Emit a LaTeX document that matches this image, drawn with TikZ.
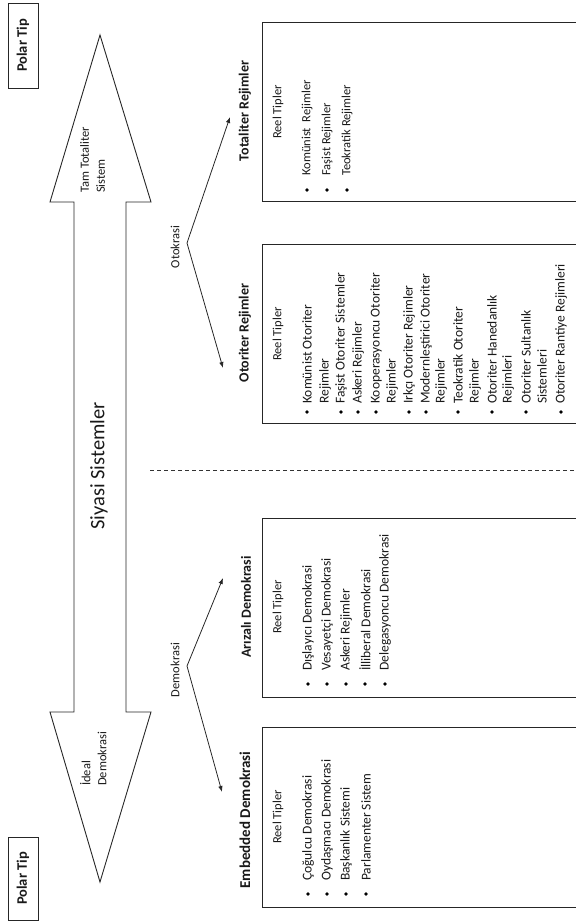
\documentclass[tikz,border=0pt]{standalone}
\usepackage{fontspec}
\setmainfont{Carlito}
\usetikzlibrary{arrows.meta}
\begin{document}
\begin{tikzpicture}[x=1pt,y=-1pt,
  line/.style={draw=black!85, line width=0.9pt},
  vt/.style={rotate=90, inner sep=0pt, text=black!90},
  small/.style={vt, font=\fontsize{12.5}{14}\selectfont},
  itm/.style={vt, anchor=west, font=\fontsize{13.5}{14}\selectfont},
  head/.style={vt, font=\bfseries\fontsize{14}{16}\selectfont},
  reel/.style={vt, font=\fontsize{12.5}{14}\selectfont},
  bul/.style={circle, fill=black, inner sep=0pt, minimum size=3.8pt},
  conn/.style={draw=black!85, line width=0.8pt, -{Latex[length=6pt,width=4.5pt]}}
]
\useasboundingbox (0,0) rectangle (576,922);

% Polar Tip boxes
\node[line, vt, minimum width=85pt, minimum height=30pt, font=\bfseries\fontsize{14.5}{16}\selectfont] (p1) at (23,45.5) {Polar Tip};
\node[line, vt, minimum width=83pt, minimum height=30pt, font=\bfseries\fontsize{14.5}{16}\selectfont] (p2) at (23,878.5) {Polar Tip};

% Double block arrow
\draw[line] (100,35) -- (151,202) -- (126,202) -- (126,712) -- (151,712) -- (100,882)
  -- (50,712) -- (74,712) -- (74,202) -- (50,202) -- cycle;
\node[vt, font=\fontsize{20.5}{24}\selectfont] (siy) at (99,466) {Siyasi Sistemler};
\node[small, anchor=north west, align=left] (tam) at (80,193) {Tam Totaliter\\[2pt]Sistem};
\node[small, anchor=north west, align=left] (ide) at (80,786) {İdeal\\[2pt]Demokrasi};

% Dashed separator
\coordinate (d1) at (150,470);
\coordinate (d2) at (576,470);
\draw[draw=black!80, line width=0.8pt, dash pattern=on 4pt off 3pt] (d1) -- (d2);

% Otokrasi branch
\node[small] (oto) at (175,247) {Otokrasi};
\coordinate (otov) at (187,243);
\coordinate (otoa) at (230,117);
\coordinate (otob) at (223,368);
\draw[conn] (otov) -- (otoa);
\draw[conn] (otov) -- (otob);

% Demokrasi branch
\node[small] (dem) at (175,670) {Demokrasi};
\coordinate (demv) at (187,666);
\coordinate (dema) at (223,578);
\coordinate (demb) at (222,792);
\draw[conn] (demv) -- (dema);
\draw[conn] (demv) -- (demb);

% Headings
\node[head] (h1) at (245,111) {Totaliter Rejimler};
\node[head] (h2) at (245,333) {Otoriter Rejimler};
\node[head] (h3) at (246,607) {Arızalı Demokrasi};
\node[head, font=\bfseries\fontsize{15}{17}\selectfont] (h4) at (245,820) {Embedded Demokrasi};

% Open boxes
\draw[line] (576,22) -- (262,22) -- (262,201) -- (576,201);
\draw[line] (576,244) -- (262,244) -- (262,423) -- (576,423);
\draw[line] (576,518) -- (262,518) -- (262,697) -- (576,697);
\draw[line] (576,727) -- (262,727) -- (262,907) -- (576,907);

% Reel Tipler
\node[reel] (r1) at (278,112) {Reel Tipler};
\node[reel] (r2) at (278,334) {Reel Tipler};
\node[reel] (r3) at (278,607) {Reel Tipler};
\node[reel] (r4) at (278,817) {Reel Tipler};

% Totaliter items
\foreach \x/\t/\b [count=\i] in {307/Komünist\ \ Rejimler/1, 327/Faşist Rejimler/1, 347/Teokratik Rejimler/1}{
  \node[itm, font=\fontsize{12.5}{14}\selectfont] (ta\i) at (\x,176) {\t};
  \ifnum\b=1 \node[bul] (tb\i) at (\x,190) {};\fi
}
% Otoriter items
\foreach \x/\t/\b [count=\i] in {307/Komünist Otoriter/1, 325/Rejimler/0, 341/Faşist Otoriter Sistemler/1,
  358/Askeri Rejimler/1, 376/Kooperasyoncu Otoriter/1, 392/Rejimler/0, 409/Irkçı Otoriter Rejimler/1,
  426/Modernleştirici Otoriter/1, 441/Rejimler/0, 458/Teokratik Otoriter/1, 475/Rejimler/0,
  492/Otoriter Hanedanlık/1, 508/Rejimleri/0, 526/Otoriter Sultanlık/1, 542/Sistemleri/0,
  561/Otoriter Rantiye Rejimleri/1}{
  \node[itm] (oa\i) at (\x,404) {\t};
  \ifnum\b=1 \node[bul] (ob\i) at (\x,412) {};\fi
}
% Arizali items
\foreach \x/\t [count=\i] in {308/Dışlayıcı Demokrasi, 327/Vesayetçi Demokrasi, 346/Askeri Rejimler,
  365/İlliberal Demokrasi, 385/Delegasyoncu Demokrasi}{
  \node[itm] (aa\i) at (\x,671) {\t};
  \node[bul] (ab\i) at (\x,684) {};
}
% Embedded items
\foreach \x/\t [count=\i] in {308/Çoğulcu Demokrasi, 327/Oydaşmacı Demokrasi, 346/Başkanlık Sistemi,
  366/Parlamenter Sistem}{
  \node[itm] (ea\i) at (\x,881) {\t};
  \node[bul] (eb\i) at (\x,894) {};
}
\end{tikzpicture}
\end{document}
